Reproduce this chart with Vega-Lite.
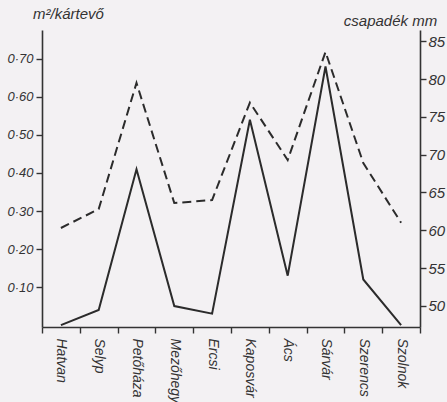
{
  "$schema": "https://vega.github.io/schema/vega-lite/v6.json",
  "autosize": {"type": "none"},
  "width": 378,
  "height": 297,
  "padding": {"left": 42, "top": 30, "right": 27, "bottom": 75},
  "background": "#f3f1f3",
  "config": {
    "view": {"stroke": null},
    "font": "Liberation Sans",
    "axis": {
      "labelFont": "Liberation Sans",
      "titleFont": "Liberation Sans",
      "labelFontStyle": "italic",
      "titleFontStyle": "italic",
      "titleFontWeight": "normal",
      "labelColor": "#333",
      "titleColor": "#333",
      "domainColor": "#333",
      "tickColor": "#333",
      "domainWidth": 1.6,
      "tickWidth": 1.4,
      "grid": false
    }
  },
  "data": {
    "values": [
      {"site": "Hatvan", "infest": 0.0, "rain": 60.3},
      {"site": "Selyp", "infest": 0.04, "rain": 62.8},
      {"site": "Petőháza", "infest": 0.41, "rain": 79.5},
      {"site": "Mezőhegyes", "infest": 0.05, "rain": 63.6},
      {"site": "Ercsi", "infest": 0.03, "rain": 64.0},
      {"site": "Kaposvár", "infest": 0.54, "rain": 76.9},
      {"site": "Ács", "infest": 0.13, "rain": 69.3},
      {"site": "Sárvár", "infest": 0.68, "rain": 83.6},
      {"site": "Szerencs", "infest": 0.12, "rain": 68.9},
      {"site": "Szolnok", "infest": 0.0, "rain": 61.0}
    ]
  },
  "encoding": {
    "x": {
      "field": "site",
      "type": "nominal",
      "sort": null,
      "bandPosition": 0.5,
      "scale": {"type": "band", "paddingInner": 0, "paddingOuter": 0},
      "axis": {
        "title": null,
        "labelAngle": 90,
        "labelAlign": "left",
        "labelBaseline": "middle",
        "labelFontSize": 14,
        "labelPadding": 5,
        "tickBand": "extent",
        "tickSize": 6,
        "labelLimit": 100
      }
    }
  },
  "layer": [
    {
      "mark": {"type": "line", "color": "#2b2b2b", "strokeWidth": 2},
      "encoding": {
        "y": {
          "field": "infest",
          "type": "quantitative",
          "scale": {"domain": [-0.005, 0.776], "nice": false, "zero": false},
          "axis": {
            "title": "m²/kártevő",
            "titleAngle": 0,
            "titleAlign": "center",
            "titleBaseline": "middle",
            "titleX": 26,
            "titleY": -17,
            "titleFontSize": 15,
            "values": [0.1, 0.2, 0.3, 0.4, 0.5, 0.6, 0.7],
            "labelExpr": "replace(format(datum.value, '.2f'), '.', '·')",
            "labelFontSize": 13,
            "tickSize": 6,
            "labelPadding": 3
          }
        }
      }
    },
    {
      "mark": {"type": "line", "color": "#2b2b2b", "strokeWidth": 2, "strokeDash": [9, 5]},
      "encoding": {
        "y": {
          "field": "rain",
          "type": "quantitative",
          "scale": {"domain": [47.2, 86.5], "nice": false, "zero": false},
          "axis": {
            "orient": "right",
            "title": "csapadék mm",
            "titleAngle": 0,
            "titleAlign": "center",
            "titleBaseline": "middle",
            "titleX": -30,
            "titleY": -10,
            "titleFontSize": 15,
            "values": [50, 55, 60, 65, 70, 75, 80, 85],
            "labelFontSize": 15,
            "tickSize": 6,
            "labelPadding": 2
          }
        }
      }
    }
  ],
  "resolve": {"scale": {"y": "independent"}}
}
